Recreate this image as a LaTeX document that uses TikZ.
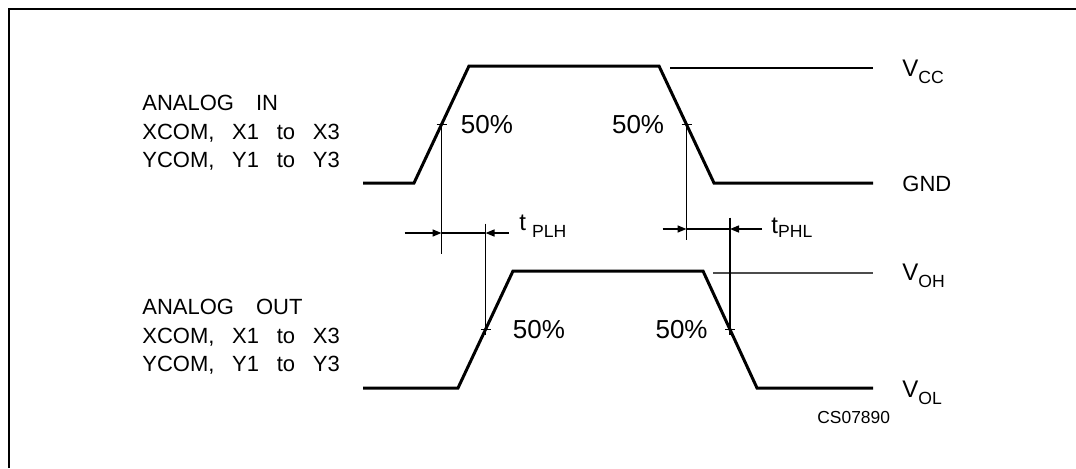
\documentclass[tikz,border=0pt]{standalone}
\usepackage{fontspec}
\setmainfont{Liberation Sans}[WordSpace=2.9]
\usetikzlibrary{positioning, arrows.meta, calc}

% lowered subscript text (V_CC, t_PLH, ...)
\newcommand{\lowtxt}[2][3.5pt]{\raisebox{-#1}{\fontsize{8.8}{9}\selectfont #2}}

\begin{document}
\begin{tikzpicture}[>={Triangle[length=4.5pt,width=3.5pt]}, x=0.5pt, y=-0.5pt,
  wave/.style={line width=1.5pt},
  guide/.style={line width=0.9pt},
  dimline/.style={line width=0.75pt},
  txt/.style={inner sep=0pt, font=\fontsize{11}{14.25}\selectfont},
  pct/.style={inner sep=0pt, font=\fontsize{13}{14}\selectfont},
  lvl/.style={inner sep=0pt, anchor=base west, font=\fontsize{12}{14}\selectfont}]

  \useasboundingbox (0,0) rectangle (1076,468);

  % --- FRAME ---
  \draw[line width=1.1pt] (9,468) -- (9,9) -- (1076,9);

  % --- INPUT (ANALOG IN) ---
  \coordinate (i0) at (363,183);
  \coordinate (i1) at (414,183);
  \coordinate (i2) at (469,66);
  \coordinate (i3) at (659,66);
  \coordinate (i4) at (714,183);
  \coordinate (i5) at (873,183);
  \draw[wave] (i0) -- (i1) -- (i2) -- (i3) -- (i4) -- (i5);

  % 50% points of the input edges
  \coordinate (imr) at ($(i1)!0.5!(i2)$);
  \coordinate (imf) at ($(i3)!0.5!(i4)$);

  % V_CC level
  \coordinate (vccA) at (670,68);
  \coordinate (vccB) at (873,68);
  \draw[guide] (vccA) -- (vccB);

  \node[txt, align=left, anchor=north west] (inlbl) at (142,95)
    {ANALOG\hspace{11pt}IN\\XCOM, X1 to X3\\YCOM, Y1 to Y3};
  \node[lvl] (vcc) at ($(vccB)+(29,8)$) {V\lowtxt{CC}};
  \node[lvl, font=\fontsize{11}{14}\selectfont] (gnd) at ($(i5)+(29,8)$) {GND};

  % --- OUTPUT (ANALOG OUT) ---
  \coordinate (o0) at (363,388);
  \coordinate (o1) at (458,388);
  \coordinate (o2) at (513,271);
  \coordinate (o3) at (703,271);
  \coordinate (o4) at (757,388);
  \coordinate (o5) at (873,388);
  \draw[wave] (o0) -- (o1) -- (o2) -- (o3) -- (o4) -- (o5);

  % 50% points of the output edges
  \coordinate (omr) at ($(o1)!0.5!(o2)$);
  \coordinate (omf) at ($(o3)!0.5!(o4)$);

  % V_OH level
  \coordinate (vohA) at (713,273);
  \coordinate (vohB) at (873,273);
  \draw[guide, black!70] (vohA) -- (vohB);

  \node[txt, align=left, anchor=north west] (outlbl) at (142,299)
    {ANALOG\hspace{11pt}OUT\\XCOM, X1 to X3\\YCOM, Y1 to Y3};
  \node[lvl] (voh) at ($(vohB)+(29,7)$) {V\lowtxt{OH}};
  \node[lvl] (vol) at ($(o5)+(29,9)$) {V\lowtxt{OL}};

  % --- 50% MARKS ---
  \foreach \m in {imr, imf, omr, omf} {
    \draw[dimline] ([xshift=-2.5pt]\m) -- ([xshift=2.5pt]\m);
  }
  \node[pct, right=9.5pt of imr] (p1) {50\%};
  \node[pct, left=11pt of imf] (p2) {50\%};
  \node[pct, right=13.5pt of omr] (p3) {50\%};
  \node[pct, left=11pt of omf] (p4) {50\%};

  % extension lines
  \draw[dimline] (imr) -- ++(0,129);
  \draw[dimline] (imf) -- ++(0,115);
  \draw[dimline] ($(omr)+(0,-106)$) -- ($(omr)+(0,5)$);
  \draw[dimline] ($(omf)+(0,-112)$) -- ($(omf)+(0,5)$);

  % --- t_PLH ---
  \coordinate (plhrow) at (0,233);
  \draw[dimline, ->] ($(imr |- plhrow)+(-37,0)$) -- (imr |- plhrow);
  \draw[dimline] (imr |- plhrow) -- (omr |- plhrow);
  \draw[dimline, ->] ($(omr |- plhrow)+(23,0)$) -- (omr |- plhrow);
  \node[lvl] (tplh) at (519,230) {t\hspace{3pt}\lowtxt{PLH}};

  % --- t_PHL ---
  \coordinate (phlrow) at (0,229);
  \draw[dimline, ->] ($(imf |- phlrow)+(-24,0)$) -- (imf |- phlrow);
  \draw[dimline] (imf |- phlrow) -- (omf |- phlrow);
  \draw[dimline, ->] ($(omf |- phlrow)+(32,0)$) -- (omf |- phlrow);
  \node[lvl] (tphl) at (771,233) {t\lowtxt[2pt]{PHL}};

  % drawing code
  \node[inner sep=0pt, anchor=base west, font=\fontsize{8.7}{9}\selectfont] (code) at (817,423) {CS07890};

\end{tikzpicture}
\end{document}
